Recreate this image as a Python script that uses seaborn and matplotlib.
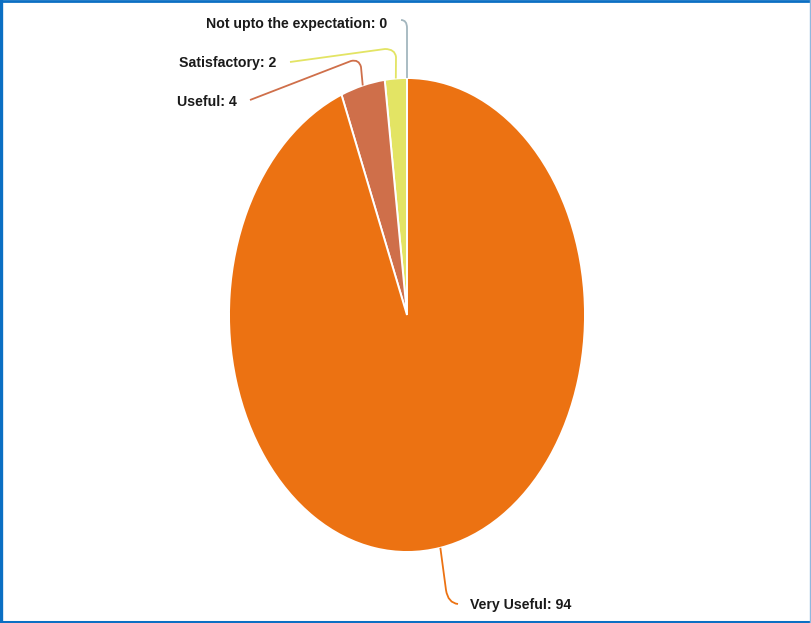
import matplotlib
matplotlib.use("Agg")
import matplotlib.pyplot as plt
import seaborn as sns
import numpy as np
from matplotlib import font_manager
from matplotlib.path import Path
from matplotlib.patches import PathPatch
from matplotlib.lines import Line2D

# ---- data ----
categories = ["Not upto the expectation", "Satisfactory", "Useful", "Very Useful"]
values = [0, 2, 4, 94]
colors = ["#a3b6be", "#e3e464", "#cf6f4a", "#ec7212"]

sns.set_theme(style="white")
names = {f.name for f in font_manager.fontManager.ttflist}
if "Liberation Sans Narrow" in names:
    fam, fs = "Liberation Sans Narrow", 12.2
else:
    fam, fs = "Liberation Sans", 10.2
plt.rcParams["font.family"] = [fam, "DejaVu Sans"]

W, H = 812, 623
fig = plt.figure(figsize=(W / 100, H / 100), dpi=100)
ax = fig.add_axes([0, 0, 1, 1])

# pie layout (pixels): center and radii of the elliptical pie
CX, CY, RX, RY = 407, 315, 178, 237

def p2d(px, py):
    return ((px - CX) / RX, (CY - py) / RY)

wedges, _ = ax.pie(values, colors=colors, startangle=90, counterclock=True,
                   wedgeprops=dict(edgecolor="white", linewidth=1.4))
ax.set_aspect("auto")
ax.set_xlim(-CX / RX, (W - CX) / RX)
ax.set_ylim(-(H - CY) / RY, CY / RY)
ax.axis("off")

def edge_px(w):
    t = np.deg2rad((w.theta1 + w.theta2) / 2)
    return CX + RX * np.cos(t), CY - RY * np.sin(t)

# leader line shapes (pixel offsets) and label positions
leaders = {
    "Not upto the expectation": dict(pts=[(407, 28), (407, 20), (401, 20)], tail=None,
                                     text=(387, 24), ha="right"),
    "Satisfactory": dict(pts=[(396, 57), (395, 49), (385, 49)], tail=(290, 62),
                         text=(276, 63), ha="right"),
    "Useful": dict(pts=[(361, 67), (359, 59), (351, 61)], tail=(250, 100),
                   text=(237, 102), ha="right"),
    "Very Useful": dict(pts=[(446, 590), (448, 603), (458, 604)], tail=None,
                        text=(470, 605), ha="left"),
}

for w, cat, val, col in zip(wedges, categories, values, colors):
    L = leaders[cat]
    sx, sy = edge_px(w)
    if val == 0:
        sx = CX
    (ax1, ay1), (cx1, cy1), (ex, ey) = L["pts"]
    verts = [p2d(sx, sy), p2d(sx + (ax1 - sx) * 0 + (0 if val else 0), ay1)]
    verts = [p2d(sx, sy), p2d(ax1 if val else sx, ay1), p2d(cx1 if val else sx, cy1), p2d(ex, ey)]
    codes = [Path.MOVETO, Path.LINETO, Path.CURVE3, Path.CURVE3]
    if L["tail"] is not None:
        verts.append(p2d(*L["tail"]))
        codes.append(Path.LINETO)
    ax.add_patch(PathPatch(Path(verts, codes), facecolor="none", edgecolor=col,
                           linewidth=1.3, zorder=1))
    tx, ty = p2d(*L["text"])
    ax.text(tx, ty, f"{cat}: {val}", ha=L["ha"], va="center", fontsize=fs,
            fontweight="bold", color="#1a1a1a")

# frame border
blue = "#0b6fc3"
fig.add_artist(Line2D([0.5 / W * 3, 0.5 / W * 3], [0, 1], transform=fig.transFigure, color=blue, lw=2.4))
fig.add_artist(Line2D([0, 1], [1 - 1.0 / H, 1 - 1.0 / H], transform=fig.transFigure, color=blue, lw=2.0))
fig.add_artist(Line2D([0, 1], [1.0 / H, 1.0 / H], transform=fig.transFigure, color=blue, lw=2.2))
fig.add_artist(Line2D([1 - 1.5 / W, 1 - 1.5 / W], [0, 1], transform=fig.transFigure, color="#8fb8de", lw=1.0))

fig.savefig("out.png", dpi=100)
